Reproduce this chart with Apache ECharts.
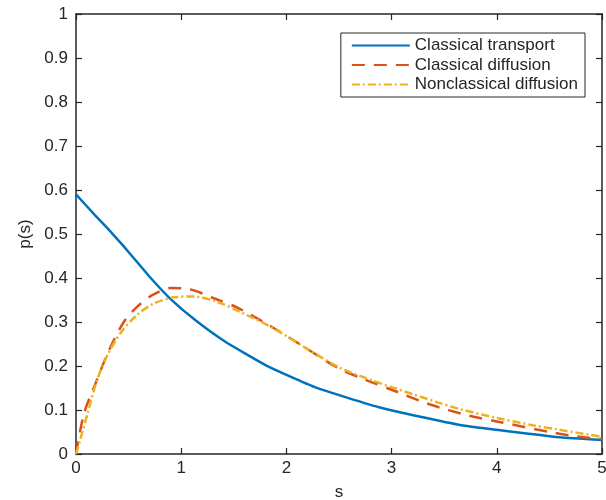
<!DOCTYPE html>
<html>
<head>
<meta charset="utf-8">
<script src="https://cdn.jsdelivr.net/npm/echarts@6/dist/echarts.min.js"></script>
<style>html,body{margin:0;padding:0;background:#fff}#c{width:606px;height:500px}</style>
</head>
<body>
<div id="c"></div>
<script>
const seriesNames = ['Classical transport', 'Classical diffusion', 'Nonclassical diffusion'];
const transportS = [0, 0.18, 0.28, 0.36, 0.45, 0.56, 0.71, 0.90, 1.13, 1.42, 1.81, 2.27, 2.90, 3.65, 4.60, 5.0];
const transportP = [0.59, 0.543, 0.518, 0.497, 0.473, 0.442, 0.400, 0.352, 0.305, 0.255, 0.201, 0.152, 0.105, 0.066, 0.038, 0.032];
const classDiffS = [0, 0.076, 0.185, 0.28, 0.36, 0.455, 0.565, 0.725, 0.90, 1.09, 1.31, 1.53, 1.875, 2.19, 2.51, 2.76, 3.0, 3.36, 3.74, 4.0, 4.57, 4.76, 5.0];
const classDiffP = [0, 0.092, 0.16, 0.217, 0.259, 0.30, 0.331, 0.361, 0.377, 0.374, 0.354, 0.333, 0.287, 0.240, 0.193, 0.168, 0.146, 0.113, 0.087, 0.074, 0.047, 0.040, 0.034];
const nonclassS = [0, 0.03, 0.11, 0.2, 0.3, 0.42, 0.58, 0.74, 0.93, 1.12, 1.34, 1.56, 1.875, 2.19, 2.51, 2.83, 3.0, 3.43, 3.65, 4.0, 4.35, 4.57, 5.0];
const nonclassP = [0, 0.024, 0.092, 0.168, 0.225, 0.274, 0.316, 0.342, 0.356, 0.358, 0.346, 0.323, 0.286, 0.240, 0.196, 0.166, 0.152, 0.118, 0.102, 0.082, 0.065, 0.056, 0.039];
const xTicks = [0, 1, 2, 3, 4, 5];
const yTicks = [0, 0.1, 0.2, 0.3, 0.4, 0.5, 0.6, 0.7, 0.8, 0.9, 1];

const pairs = (xs, ys) => xs.map((x, i) => [x, ys[i]]);
const FONT = "'Liberation Sans', Arial, Helvetica, sans-serif";
const AX = '#262626';

const chart = echarts.init(document.getElementById('c'), null, {renderer: 'canvas'});
const baseAxis = {
  type: 'value',
  axisLine: {show: true, onZero: false, lineStyle: {color: AX, width: 1.5}},
  axisTick: {show: true, inside: true, length: 6, lineStyle: {color: AX, width: 1.2}},
  splitLine: {show: false},
  axisLabel: {color: AX, fontFamily: FONT, fontSize: 17}
};
chart.setOption({
  animation: false,
  backgroundColor: '#fff',
  grid: {left: 76, right: 4, top: 14, bottom: 46, containLabel: false, outerBoundsMode: 'none'},
  xAxis: [
    Object.assign({}, baseAxis, {
      position: 'bottom', min: xTicks[0], max: xTicks[xTicks.length - 1], interval: 1,
      name: 's', nameLocation: 'middle', nameGap: 30,
      nameTextStyle: {color: AX, fontFamily: FONT, fontSize: 17},
      axisLabel: Object.assign({}, baseAxis.axisLabel, {margin: 6})
    }),
    Object.assign({}, baseAxis, {
      position: 'top', min: xTicks[0], max: xTicks[xTicks.length - 1], interval: 1,
      axisLabel: {show: false}
    })
  ],
  yAxis: [
    Object.assign({}, baseAxis, {
      position: 'left', min: yTicks[0], max: yTicks[yTicks.length - 1], interval: 0.1,
      name: 'p(s)', nameLocation: 'middle', nameGap: 42,
      nameTextStyle: {color: AX, fontFamily: FONT, fontSize: 17},
      axisLabel: Object.assign({}, baseAxis.axisLabel, {margin: 8})
    }),
    Object.assign({}, baseAxis, {
      position: 'right', min: yTicks[0], max: yTicks[yTicks.length - 1], interval: 0.1,
      axisLabel: {show: false}
    })
  ],
  legend: {
    orient: 'vertical', right: 21, top: 33,
    padding: [4, 7, 4, 10],
    itemWidth: 58, itemHeight: 14, itemGap: 2.5,
    backgroundColor: '#fff', borderColor: AX, borderWidth: 1,
    itemStyle: {color: 'rgba(0,0,0,0)', borderWidth: 0, opacity: 0},
    textStyle: {color: AX, fontFamily: FONT, fontSize: 17},
    data: seriesNames
  },
  series: [
    {name: seriesNames[0], type: 'line', data: pairs(transportS, transportP), showSymbol: false, symbol: 'none', smooth: 0.15,
     lineStyle: {color: '#0072BD', width: 2.5}, itemStyle: {color: '#0072BD'}, z: 3},
    {name: seriesNames[1], type: 'line', data: pairs(classDiffS, classDiffP), showSymbol: false, symbol: 'none', smooth: 0.3,
     lineStyle: {color: '#D95319', width: 2.5, type: [13, 9]}, itemStyle: {color: '#D95319'}, z: 4},
    {name: seriesNames[2], type: 'line', data: pairs(nonclassS, nonclassP), showSymbol: false, symbol: 'none', smooth: 0.3,
     lineStyle: {color: '#EDB120', width: 2.5, type: [8, 3, 2, 3]}, itemStyle: {color: '#EDB120'}, z: 5}
  ]
});
</script>
</body>
</html>
